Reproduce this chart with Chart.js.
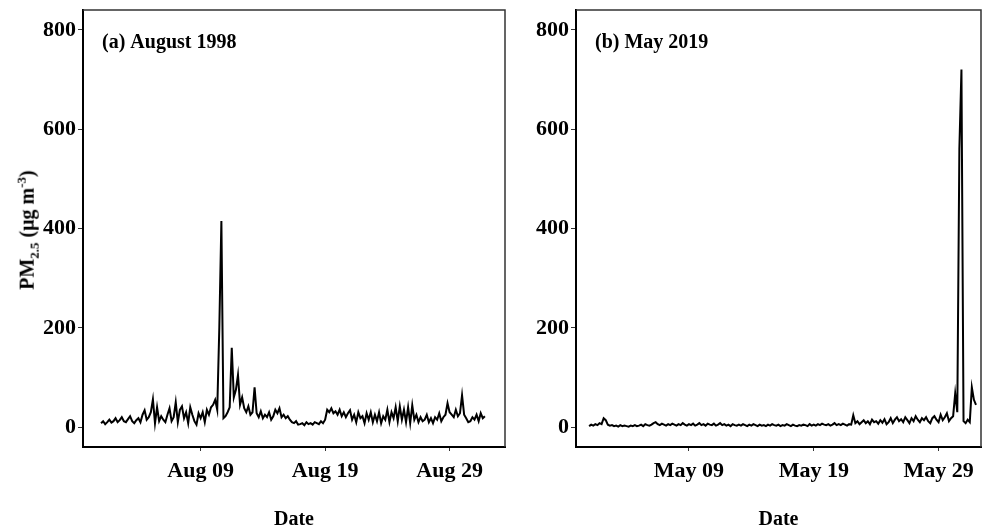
<!DOCTYPE html>
<html>
<head>
<meta charset="utf-8">
<script src="https://cdn.jsdelivr.net/npm/chart.js@4.4.1/dist/chart.umd.min.js"></script>
<style>
  body { margin: 0; background: #fff; width: 985px; height: 531px; position: relative; overflow: hidden; }
  .panel { position: absolute; top: 0; }
  #ylab { position: absolute; left: 28px; top: 230px; transform: translate(-50%, -50%) rotate(-90deg);
          font: bold 20px "Liberation Serif", serif; white-space: nowrap; color: #000; }
  #ylab sub, #ylab sup { font-size: 13px; }
</style>
</head>
<body>
<div class="panel" style="left:0"><canvas id="c1" width="515" height="531"></canvas></div>
<div class="panel" style="left:490px"><canvas id="c2" width="495" height="531"></canvas></div>
<div id="ylab">PM<sub>2.5</sub> (μg m<sup>-3</sup>)</div>
<script>
// 4-hourly PM2.5 readings, starting on day 1 at 00:00
const stepDays = 1 / 6;
const startDay = 1;

const augValues = [
  8, 12, 6, 10, 15, 9,
  12, 18, 10, 14, 20, 12,
  10, 16, 22, 12, 8, 14,
  18, 10, 25, 34, 15, 20,
  30, 56, 8, 40, 12, 22,
  15, 10, 25, 38, 12, 20,
  50, 10, 35, 42, 18, 30,
  8, 40, 25, 12, 5, 28,
  18, 30, 10, 35, 25, 40,
  45, 55, 35, 200, 415, 18,
  22, 30, 40, 160, 60, 75,
  105, 45, 60, 38, 30, 42,
  25, 30, 80, 28, 20, 32,
  18, 25, 20, 30, 15, 22,
  35, 28, 38, 20, 25, 18,
  22, 15, 10, 8, 12, 5,
  6, 8, 4, 10, 6, 8,
  5, 10, 8, 6, 12, 8,
  15, 35, 30, 38, 28, 32,
  25, 35, 22, 30, 20, 28,
  34, 15, 25, 10, 30, 18,
  22, 8, 28, 15, 30, 10,
  25, 12, 30, 8, 22, 15,
  35, 10, 30, 18, 40, 12,
  42, 15, 35, 10, 40, 8,
  44, 15, 25, 10, 20, 12,
  15, 25, 10, 18, 8, 20,
  15, 28, 12, 20, 25, 48,
  30, 25, 20, 35, 22, 28,
  64, 25, 18, 10, 12, 20,
  15, 25, 12, 28, 18, 22
];

const mayValues = [
  2, 5, 3, 6, 4, 8,
  6, 18, 14, 5, 3, 4,
  2, 3, 1, 4, 2, 3,
  2, 1, 3, 2, 4, 2,
  3, 5, 2, 6, 4, 3,
  5, 8, 10, 6, 4, 7,
  5, 3, 6, 4, 7, 5,
  3, 6, 4, 8, 5, 3,
  6, 4, 7, 3, 5, 8,
  4, 6, 3, 7, 5, 4,
  7, 3, 5, 8, 4, 6,
  3, 5, 2, 6, 4, 3,
  5, 3, 6, 4, 2, 5,
  3, 6, 4, 2, 5, 3,
  4, 2, 5, 3, 6, 4,
  3, 5, 2, 4, 3, 6,
  4, 2, 5, 3, 2, 4,
  3, 5, 4, 2, 6, 3,
  5, 3, 6, 4, 7, 5,
  4, 6, 3, 5, 8, 4,
  6, 4, 7, 5, 3, 6,
  5, 24, 8, 12, 6, 10,
  14, 8, 12, 6, 15, 10,
  12, 7, 14, 9, 16, 6,
  10, 18, 8, 15, 20, 12,
  16, 10, 20, 14, 8, 18,
  12, 22, 15, 10, 18, 14,
  20, 12, 8, 18, 22, 15,
  10, 25, 14, 20, 28, 12,
  18, 22, 68, 30, 560, 720,
  12, 8, 15, 10, 80, 55,
  45
];

const yTicks = [0, 200, 400, 600, 800];
const xTicks = [9, 19, 29];
const augLabels = ['Aug 09', 'Aug 19', 'Aug 29'];
const mayLabels = ['May 09', 'May 19', 'May 29'];

const tickFont = { family: 'Liberation Serif', weight: 'bold', size: 22 };
const titleFont = { family: 'Liberation Serif', weight: 'bold', size: 20, lineHeight: 1 };

function toPoints(vals) {
  return vals.map((v, i) => ({ x: startDay + i * stepDays, y: v }));
}

const framePlugin = {
  id: 'frame',
  afterDraw(chart, args, opts) {
    const a = chart.chartArea, ctx = chart.ctx;
    ctx.save();
    ctx.strokeStyle = '#333';
    ctx.lineWidth = 1.5;
    ctx.beginPath();
    ctx.moveTo(a.left, a.top);
    ctx.lineTo(a.right, a.top);
    ctx.lineTo(a.right, a.bottom);
    ctx.stroke();
    ctx.fillStyle = '#000';
    ctx.font = 'bold 20px "Liberation Serif"';
    ctx.textBaseline = 'middle';
    ctx.fillText(opts.text, a.left + 19, a.top + 33);
    ctx.restore();
  }
};

function makeChart(id, values, labels, panelText, xMin, xMax, yWidth, padRight) {
  return new Chart(document.getElementById(id), {
    type: 'line',
    data: {
      datasets: [{
        data: toPoints(values),
        borderColor: '#000',
        borderWidth: 2,
        pointRadius: 0,
        tension: 0
      }]
    },
    options: {
      responsive: false,
      animation: false,
      devicePixelRatio: 1,
      layout: { padding: { top: 10, right: padRight, left: 0, bottom: 0 } },
      plugins: {
        legend: { display: false },
        tooltip: { enabled: false },
        frame: { text: panelText }
      },
      scales: {
        x: {
          type: 'linear',
          min: xMin,
          max: xMax,
          afterBuildTicks: s => { s.ticks = xTicks.map(v => ({ value: v })); },
          afterFit: s => { s.height = 84; s.paddingLeft = 0; s.paddingRight = 0; },
          ticks: {
            color: '#000', font: tickFont, padding: 7, maxRotation: 0,
            callback: (v) => labels[xTicks.indexOf(v)]
          },
          grid: { drawOnChartArea: false, tickLength: 4, color: '#333' },
          border: { color: '#000', width: 2 },
          title: { display: true, text: 'Date', color: '#000', font: titleFont, padding: { top: 0, bottom: 1 } }
        },
        y: {
          min: -40,
          max: 840,
          afterBuildTicks: s => { s.ticks = yTicks.map(v => ({ value: v })); },
          afterFit: s => { s.width = yWidth; s.paddingTop = 0; s.paddingBottom = 0; },
          ticks: { color: '#000', font: tickFont, padding: 2 },
          grid: { drawOnChartArea: false, tickLength: 5, color: '#333' },
          border: { color: '#000', width: 2 }
        }
      }
    },
    plugins: [framePlugin]
  });
}

makeChart('c1', augValues, augLabels, '(a) August 1998', -0.45, 33.45, 83, 10);
makeChart('c2', mayValues, mayLabels, '(b) May 2019', -0.05, 32.4, 86, 4);
</script>
</body>
</html>
